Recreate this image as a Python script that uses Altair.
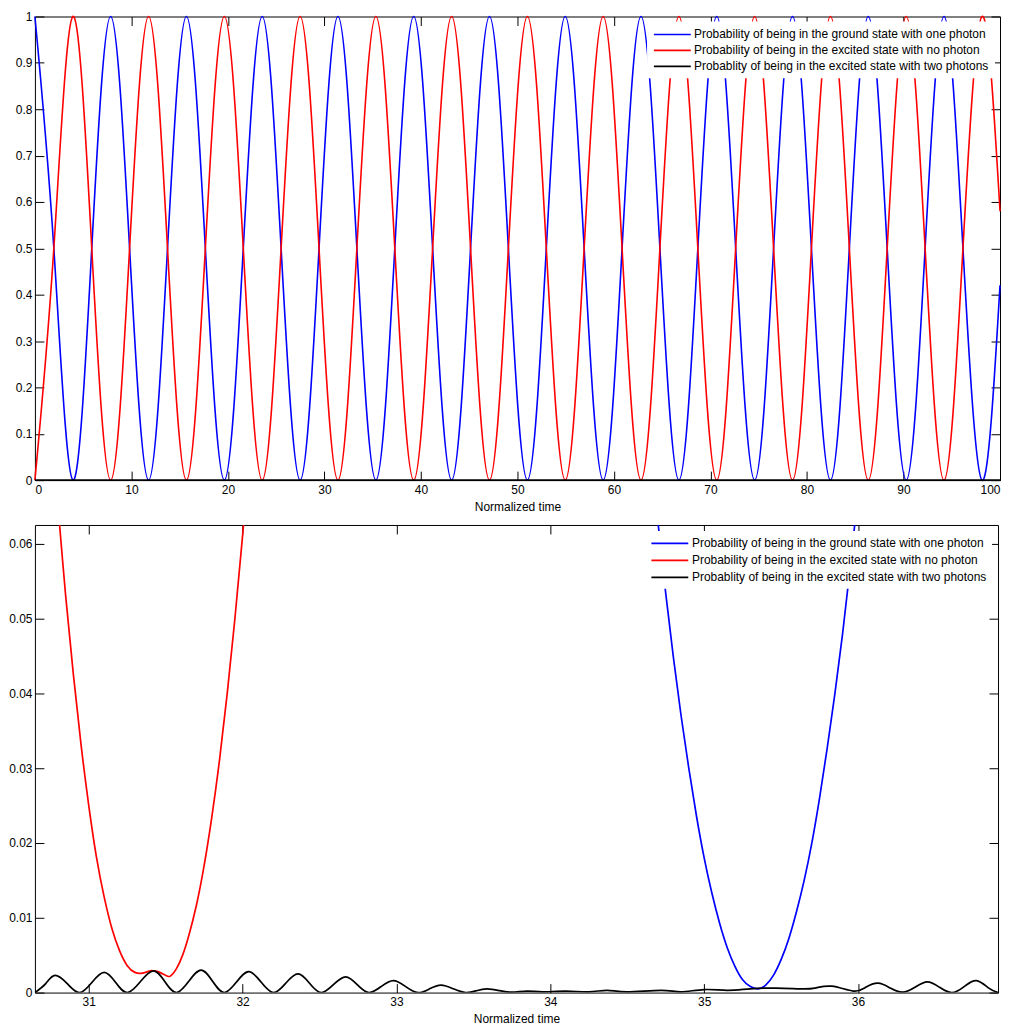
import altair as alt
import pandas as pd

SERIES = [
    "Probability of being in the ground state with one photon",
    "Probability of being in the excited state with no photon",
    "Probablity of being in the excited state with two photons",
]
COLORS = ["#0000ff", "#ff0000", "#000000"]

# ---------------- top panel (0..100) ----------------
top_t = [0, 1.96, 3.93, 5.89, 7.85, 9.81, 11.78, 13.74, 15.70, 17.66, 19.63, 21.59,
         23.55, 25.51, 27.48, 29.44, 31.40, 33.36, 35.33, 37.29, 39.25, 41.21, 43.18,
         45.14, 47.10, 49.06, 51.03, 52.99, 54.95, 56.91, 58.88, 60.84, 62.80, 64.76,
         66.73, 68.69, 70.65, 72.61, 74.58, 76.54, 78.50, 80.46, 82.43, 84.39, 86.35,
         88.31, 90.28, 92.24, 94.20, 96.16, 98.13, 100]
top_blue = [1, .5, 0, .5, 1, .5, 0, .5, 1, .5, 0, .5, 1, .5, 0, .5, 1, .5, 0, .5,
            1, .5, 0, .5, 1, .5, 0, .5, 1, .5, 0, .5, 1, .5, 0, .5, 1, .5, 0, .5,
            1, .5, 0, .5, 1, .5, 0, .5, 1, .5, 0, .42]
top_red = [0, .5, 1, .5, 0, .5, 1, .5, 0, .5, 1, .5, 0, .5, 1, .5, 0, .5, 1, .5,
           0, .5, 1, .5, 0, .5, 1, .5, 0, .5, 1, .5, 0, .5, 1, .5, 0, .5, 1, .5,
           0, .5, 1, .5, 0, .5, 1, .5, 0, .5, 1, .58]
top_black_t = [0, 20, 40, 60, 80, 100]
top_black = [0, 0, 0, 0, 0, 0]
top_xticks = [0, 10, 20, 30, 40, 50, 60, 70, 80, 90, 100]
top_yticks = [0, 0.1, 0.2, 0.3, 0.4, 0.5, 0.6, 0.7, 0.8, 0.9, 1]

# ---------------- bottom panel (zoom) ----------------
bot_red_t = [30.65, 30.75, 30.80, 30.85, 30.90, 30.95, 31.00, 31.05, 31.10, 31.15,
             31.20, 31.25, 31.30, 31.35, 31.40, 31.42, 31.45, 31.50, 31.53, 31.57,
             31.61, 31.65, 31.70, 31.75, 31.80, 31.85, 31.90, 31.95, 32.00, 32.05, 32.10]
bot_red = [0.108, 0.078, 0.065, 0.053, 0.0425, 0.0331, 0.0250, 0.0181, 0.0128, 0.0086,
           0.0056, 0.0036, 0.0027, 0.0026, 0.0029, 0.0029, 0.0028, 0.0023, 0.0022, 0.0032,
           0.0050, 0.0076, 0.0117, 0.0170, 0.0235, 0.0311, 0.0400, 0.0500, 0.0611, 0.0733, 0.0860]
bot_blue_t = [34.60, 34.65, 34.70, 34.75, 34.80, 34.85, 34.90, 34.95, 35.00, 35.05,
              35.10, 35.15, 35.20, 35.25, 35.30, 35.35, 35.40, 35.45, 35.50, 35.55,
              35.60, 35.65, 35.70, 35.75, 35.80, 35.85, 35.90, 35.95, 36.00, 36.05]
bot_blue = [0.0837, 0.0729, 0.0628, 0.0534, 0.0448, 0.037, 0.030, 0.0236, 0.018, 0.0133,
            0.0093, 0.006, 0.0035, 0.0017, 0.0008, 0.0005, 0.001, 0.0023, 0.0044, 0.0072,
            0.0108, 0.015, 0.020, 0.026, 0.0327, 0.040, 0.048, 0.057, 0.0667, 0.077]
bot_black_t = [30.65, 30.72, 30.78, 30.86, 30.94, 31.02, 31.10, 31.175, 31.25, 31.335,
               31.42, 31.495, 31.57, 31.65, 31.73, 31.805, 31.88, 31.96, 32.04, 32.12,
               32.20, 32.28, 32.36, 32.435, 32.51, 32.59, 32.67, 32.745, 32.82, 32.90,
               32.98, 33.06, 33.14, 33.215, 33.29, 33.37, 33.45, 33.52, 33.59, 33.67,
               33.75, 33.85, 33.95, 34.10, 34.25, 34.37, 34.50, 34.72, 34.85, 35.00,
               35.15, 35.30, 35.47, 35.62, 35.72, 35.83, 35.97, 36.05, 36.13, 36.21,
               36.29, 36.37, 36.45, 36.53, 36.61, 36.69, 36.77, 36.85, 36.91]
bot_black = [0, 0.0012, 0.0023, 0.0012, 0, 0.00135, 0.0027, 0.00135, 0, 0.00145,
             0.0029, 0.00145, 0, 0.0015, 0.0030, 0.0015, 0, 0.0014, 0.0028, 0.0014,
             0, 0.00125, 0.0025, 0.00125, 0, 0.00105, 0.0021, 0.00105, 0, 0.0008,
             0.0016, 0.0008, 0, 0.0005, 0.0010, 0.0005, 0, 0.00025, 0.0005, 0.00025,
             0.00005, 0.0002, 0.0001, 0.0002, 0.0001, 0.0003, 0.0001, 0.0003, 0.0001, 0.0004,
             0.0003, 0.0005, 0.0006, 0.0005, 0.0006, 0.00085, 0.0002, 0.0007, 0.00125, 0.0006,
             0.00005, 0.0007, 0.00143, 0.0007, 0, 0.0008, 0.0016, 0.0006, 0]
bot_xticks = [31, 32, 33, 34, 35, 36]
bot_yticks = [0, 0.01, 0.02, 0.03, 0.04, 0.05, 0.06]


def long_df(parts):
    rows = []
    for name, ts, vs in parts:
        for t, v in zip(ts, vs):
            rows.append({"t": t, "v": v, "series": name})
    return pd.DataFrame(rows)


top_df = long_df([(SERIES[0], top_t, top_blue), (SERIES[1], top_t, top_red),
                  (SERIES[2], top_black_t, top_black)])
bot_df = long_df([(SERIES[0], bot_blue_t, bot_blue), (SERIES[1], bot_red_t, bot_red),
                  (SERIES[2], bot_black_t, bot_black)])

TICK = 9
FS = 12


def panel(df, xdom, ydom, xticks, yticks, width, height, widths, leg_offset,
          leg_padding, row_pad, clip, black_sym):
    xs = alt.Scale(domain=xdom, nice=False, zero=False)
    ys = alt.Scale(domain=ydom, nice=False, zero=False)
    sym_expr = "datum.value === '%s' ? %s : 1.6" % (SERIES[2], black_sym)
    legend = alt.Legend(title=None, orient="top-right", offset=leg_offset,
                        padding=leg_padding, fillColor="white",
                        symbolType="M-1,0H5", symbolSize=152, labelOffset=27,
                        rowPadding=row_pad, labelLimit=500,
                        symbolStrokeWidth={"expr": sym_expr})
    lines = alt.Chart(df).mark_line(interpolate="natural", clip=clip).encode(
        x=alt.X("t:Q", scale=xs,
                axis=alt.Axis(orient="bottom", values=xticks, format="d", ticks=False,
                              domain=False, labelPadding=4, title="Normalized time",
                              titlePadding=6)),
        y=alt.Y("v:Q", scale=ys,
                axis=alt.Axis(orient="left", values=yticks, format="~g", ticks=False,
                              domain=False, labelPadding=3, title=None)),
        color=alt.Color("series:N", scale=alt.Scale(domain=SERIES, range=COLORS),
                        legend=legend),
        strokeWidth=alt.StrokeWidth("series:N",
                                    scale=alt.Scale(domain=SERIES, range=widths),
                                    legend=None),
    )

    def ticks(xo, yo):
        return alt.Chart(df).mark_line(strokeOpacity=0, clip=True).encode(
            x=alt.X("t:Q", scale=xs,
                    axis=alt.Axis(orient=xo, values=xticks, labels=False, domain=False,
                                  ticks=True, tickSize=TICK, offset=-TICK,
                                  tickColor="black", title=None)),
            y=alt.Y("v:Q", scale=ys,
                    axis=alt.Axis(orient=yo, values=yticks, labels=False, domain=False,
                                  ticks=True, tickSize=TICK, offset=-TICK,
                                  tickColor="black", title=None)),
        )

    return alt.layer(lines, ticks("bottom", "left"), ticks("top", "right")).resolve_axis(
        x="independent", y="independent").properties(width=width, height=height)


top = panel(top_df, [0, 100], [0, 1], top_xticks, top_yticks, 968, 465,
            [1.6, 1.6, 3.2], 5, 6, 3, False, 3.5)
bottom = panel(bot_df, [30.65, 36.91], [0, 0.0625], bot_xticks, bot_yticks, 966, 469,
               [1.7, 1.7, 1.7], 6, 5, 3, True, 1.6)

chart = alt.vconcat(top, bottom, spacing=11).resolve_scale(
    color="independent", strokeWidth="independent"
).resolve_legend(
    color="independent", strokeWidth="independent"
).properties(
    padding={"left": 0, "top": 0, "right": 0, "bottom": 0}
).configure_axis(
    labelFont="Liberation Sans", labelFontSize=FS, labelColor="#000",
    titleFont="Liberation Sans", titleFontSize=FS, titleFontWeight="normal",
    titleColor="#000", grid=False,
).configure_legend(
    labelFont="Liberation Sans", labelFontSize=FS, labelColor="#000",
).configure_view(stroke="black", strokeWidth=1)

chart.save("out.html", embed_options={"renderer": "svg", "actions": False})
